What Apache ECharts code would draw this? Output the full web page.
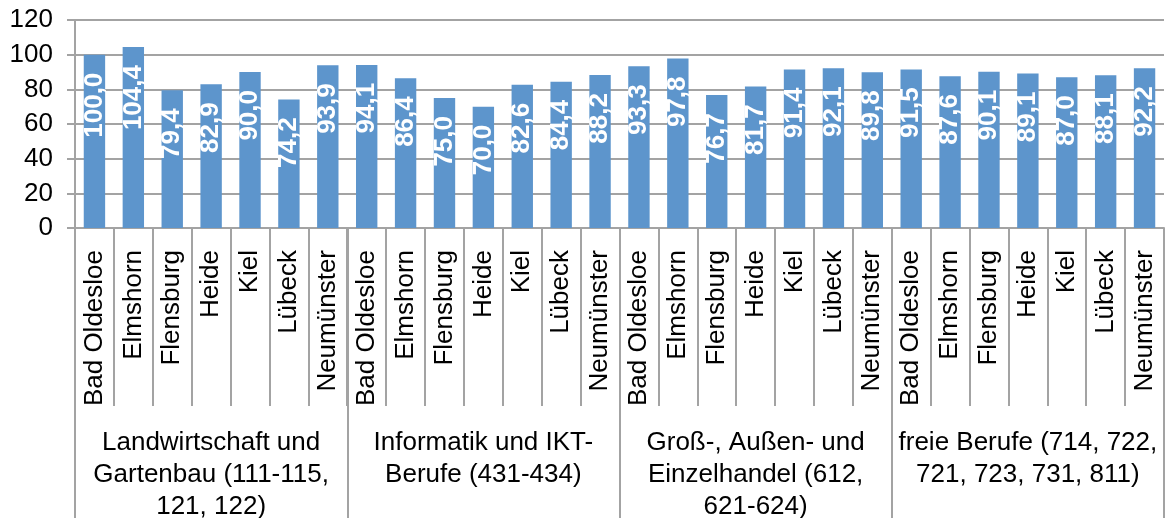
<!DOCTYPE html>
<html>
<head>
<meta charset="utf-8">
<script src="https://cdn.jsdelivr.net/npm/echarts@6/dist/echarts.min.js"></script>
<style>
  html, body { margin: 0; padding: 0; background: #fff; }
  #chart { width: 1169px; height: 518px; }
</style>
</head>
<body>
<div id="chart"></div>
<script>
const cities = ['Bad Oldesloe', 'Elmshorn', 'Flensburg', 'Heide', 'Kiel', 'Lübeck', 'Neumünster']
const groups = [
  'Landwirtschaft und\nGartenbau (111-115,\n121, 122)',
  'Informatik und IKT-\nBerufe (431-434)',
  'Groß-, Außen- und\nEinzelhandel (612,\n621-624)',
  'freie Berufe (714, 722,\n721, 723, 731, 811)'
]
const landwirtschaft = [100.0, 104.4, 79.4, 82.9, 90.0, 74.2, 93.9]
const informatik = [94.1, 86.4, 75.0, 70.0, 82.6, 84.4, 88.2]
const handel = [93.3, 97.8, 76.7, 81.7, 91.4, 92.1, 89.8]
const freieBerufe = [91.5, 87.6, 90.1, 89.1, 87.0, 88.1, 92.2]
const yTicks = [0, 20, 40, 60, 80, 100, 120]

const FONT = '"Liberation Sans", Arial, sans-serif'
const GRAY = '#a3a3a3'

const categories = groups.flatMap(() => cities)
const values = [...landwirtschaft, ...informatik, ...handel, ...freieBerufe]

const chart = echarts.init(document.getElementById('chart'))

chart.setOption({
  animation: false,
  backgroundColor: '#fff',
  textStyle: { fontFamily: FONT },
  grid: {
    left: 75,
    right: 5,
    top: 20,
    bottom: 290,
    containLabel: false,
    outerBoundsMode: 'none'
  },
  xAxis: [
    {
      type: 'category',
      data: categories,
      position: 'bottom',
      axisLine: { lineStyle: { color: GRAY, width: 2 } },
      axisTick: {
        show: true,
        interval: 0,
        length: 178,
        lineStyle: { color: GRAY, width: 2 }
      },
      axisLabel: {
        interval: 0,
        rotate: 90,
        margin: 22,
        color: '#000',
        fontSize: 26,
        fontFamily: FONT
      }
    },
    {
      type: 'category',
      data: groups,
      position: 'bottom',
      axisLine: { show: false },
      axisTick: {
        show: true,
        interval: 0,
        length: 300,
        lineStyle: { color: GRAY, width: 2 }
      },
      axisLabel: {
        interval: 0,
        margin: 199,
        color: '#000',
        fontSize: 26,
        lineHeight: 32,
        fontFamily: FONT
      }
    }
  ],
  yAxis: {
    type: 'value',
    min: yTicks[0],
    max: yTicks[yTicks.length - 1],
    interval: 20,
    axisLine: { show: true, lineStyle: { color: GRAY, width: 2 } },
    axisTick: { show: true, length: 8, lineStyle: { color: GRAY, width: 2 } },
    axisLabel: {
      margin: 22,
      color: '#000',
      fontSize: 26,
      fontFamily: FONT
    },
    splitLine: { lineStyle: { color: GRAY, width: 2 } }
  },
  series: [
    {
      type: 'bar',
      xAxisIndex: 0,
      data: values,
      barCategoryGap: '45%',
      itemStyle: { color: '#5d95cc' },
      label: {
        show: true,
        position: 'insideTop',
        rotate: 90,
        align: 'right',
        verticalAlign: 'middle',
        distance: 18,
        color: '#fff',
        fontSize: 26,
        fontWeight: 'bold',
        fontFamily: FONT,
        formatter: p => p.value.toFixed(1).replace('.', ',')
      }
    }
  ]
})
</script>
</body>
</html>
